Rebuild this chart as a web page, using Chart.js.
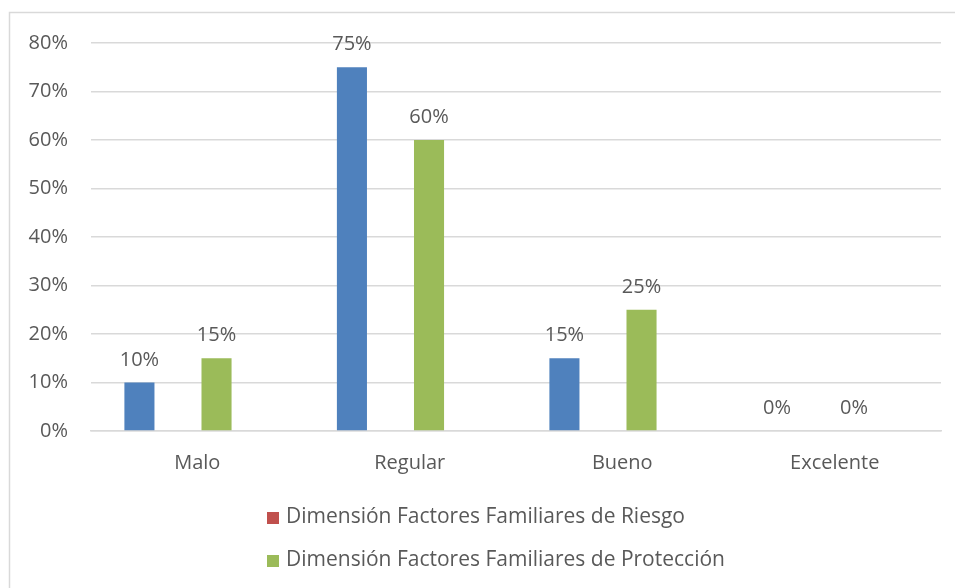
<!DOCTYPE html>
<html>
<head>
<meta charset="utf-8">
<script src="https://cdn.jsdelivr.net/npm/chart.js@4"></script>
<style>
  html, body { margin: 0; padding: 0; background: #ffffff; }
  #wrap { position: relative; width: 955px; height: 588px; }
</style>
</head>
<body>
<div id="wrap"><canvas id="c" width="955" height="588"></canvas></div>
<script>
// ---- data ----
const categories = ["Malo", "Regular", "Bueno", "Excelente"];
const seriesNames = ["Dimensión Factores Familiares de Riesgo", "Dimensión Factores Familiares de Protección"];
const riesgo = [0.10, 0.75, 0.15, 0.00];
const proteccion = [0.15, 0.60, 0.25, 0.00];
const yTicks = [0, 0.1, 0.2, 0.3, 0.4, 0.5, 0.6, 0.7, 0.8];

const FONT = '"Open Sans", "Noto Sans", sans-serif';
const TEXT = '#595959';
const GRID = '#d9d9d9';

const emptySlot = categories.map(() => null);

const pct = v => Math.round(v * 100) + '%';

const frame = {
  id: 'frame',
  beforeDraw(chart) {
    const ctx = chart.ctx;
    ctx.save();
    ctx.fillStyle = '#ffffff';
    ctx.fillRect(0, 0, chart.width, chart.height);
    ctx.strokeStyle = GRID;
    ctx.lineWidth = 1.5;
    ctx.beginPath();
    ctx.moveTo(9.5, chart.height);
    ctx.lineTo(9.5, 12.5);
    ctx.lineTo(chart.width, 12.5);
    ctx.stroke();
    ctx.restore();
  }
};

const valueLabels = {
  id: 'valueLabels',
  afterDatasetsDraw(chart) {
    const ctx = chart.ctx;
    ctx.save();
    ctx.font = '20px ' + FONT;
    ctx.fillStyle = TEXT;
    ctx.textAlign = 'center';
    ctx.textBaseline = 'alphabetic';
    chart.data.datasets.forEach((ds, di) => {
      if (!ds.isSeries) return;
      const meta = chart.getDatasetMeta(di);
      meta.data.forEach((el, i) => {
        const v = ds.data[i];
        if (v === null || v === undefined) return;
        ctx.fillText(pct(v), el.x, el.y - 17);
      });
    });
    ctx.restore();
  }
};

const customLegend = {
  id: 'customLegend',
  afterDraw(chart) {
    const ctx = chart.ctx;
    ctx.save();
    ctx.font = '21px ' + FONT;
    ctx.textAlign = 'left';
    ctx.textBaseline = 'alphabetic';
    const items = chart.data.datasets.filter(d => d.isSeries);
    items.forEach((ds, k) => {
      const baseY = 523 + k * 43;
      ctx.fillStyle = ds.legendColor;
      ctx.fillRect(267, baseY - 11, 12, 12);
      ctx.fillStyle = TEXT;
      ctx.fillText(ds.label, 286, baseY);
    });
    ctx.restore();
  }
};

new Chart(document.getElementById('c'), {
  type: 'bar',
  data: {
    labels: categories,
    datasets: [
      { label: seriesNames[0], data: riesgo, backgroundColor: '#4F81BD', legendColor: '#C0504D', isSeries: true },
      { label: '', data: emptySlot, backgroundColor: 'rgba(0,0,0,0)' },
      { label: seriesNames[1], data: proteccion, backgroundColor: '#9BBB59', legendColor: '#9BBB59', isSeries: true },
      { label: ' ', data: emptySlot, backgroundColor: 'rgba(0,0,0,0)' }
    ]
  },
  options: {
    responsive: false,
    animation: false,
    devicePixelRatio: 1,
    categoryPercentage: 0.7256,
    barPercentage: 0.78,
    layout: { padding: { top: 43, right: 14, left: 0, bottom: 0 } },
    plugins: {
      legend: { display: false },
      tooltip: { enabled: false }
    },
    scales: {
      x: {
        grid: { display: false, drawTicks: false },
        border: { display: true, color: GRID, width: 1.5 },
        ticks: { color: TEXT, font: { family: FONT, size: 20 }, padding: 20, maxRotation: 0 },
        afterFit(scale) { scale.height = 157; }
      },
      y: {
        min: 0,
        max: 0.8,
        afterBuildTicks(scale) { scale.ticks = yTicks.map(v => ({ value: v })); },
        grid: { color: GRID, lineWidth: 1.5, drawTicks: false },
        border: { display: false },
        ticks: {
          color: TEXT,
          font: { family: FONT, size: 20 },
          padding: 23,
          callback: v => pct(v)
        },
        afterFit(scale) { scale.width = 91; }
      }
    }
  },
  plugins: [frame, valueLabels, customLegend]
});
</script>
</body>
</html>
